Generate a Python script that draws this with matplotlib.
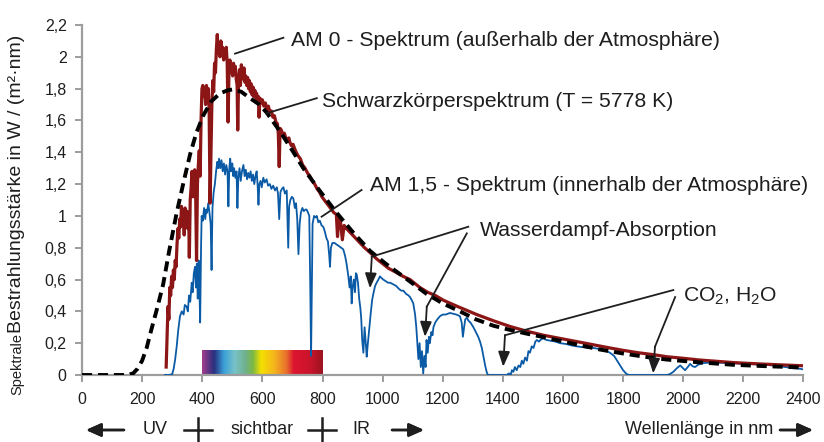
"""
Sonnenspektrum: AM0, AM1.5 und Schwarzkoerperspektrum (T = 5778 K)
"""
import matplotlib
matplotlib.use('Agg')
import matplotlib.pyplot as plt
import numpy as np
from matplotlib.colors import LinearSegmentedColormap

plt.rcParams['font.family'] = ['Liberation Sans', 'DejaVu Sans']
plt.rcParams['mathtext.fontset'] = 'custom'
plt.rcParams['mathtext.rm'] = 'Liberation Sans'
plt.rcParams['mathtext.it'] = 'Liberation Sans'

# AM 0 - Spektrum (ausserhalb der Atmosphaere), W/(m^2 nm)
am0_nm = [280, 283, 286, 289, 292, 295, 298, 301, 304, 307, 310, 313, 316, 319, 322, 325,
          328, 331, 334, 337, 340, 343, 346, 349, 352, 355, 357, 360, 363, 366, 369, 372,
          375, 378, 381, 384, 387, 390, 393, 396, 399, 402, 405, 408, 411, 414, 417, 420,
          423, 426, 429, 432, 435, 438, 441, 444, 447, 450, 453, 456, 459, 462, 465, 468,
          471, 474, 477, 480, 483, 486, 489, 492, 495, 498, 501, 504, 507, 510, 513, 516,
          518, 521, 524, 527, 530, 533, 536, 539, 542, 545, 548, 551, 554, 557, 560, 563,
          566, 569, 572, 575, 578, 581, 584, 587, 589, 592, 596, 600, 605, 610, 615, 620,
          625, 630, 635, 640, 645, 650, 653, 656, 659, 663, 668, 673, 678, 683, 688, 692,
          697, 702, 710, 718, 726, 734, 742, 750, 758, 766, 774, 782, 790, 798, 806, 814,
          822, 830, 838, 846, 850, 854, 860, 866, 872, 880, 900, 920, 940, 958, 980, 1000,
          1020, 1040, 1068, 1091, 1124, 1150, 1175, 1202, 1250, 1313, 1370, 1424, 1480, 1535, 1590, 1646,
          1700, 1756, 1800, 1850, 1900, 1945, 2000, 2050, 2100, 2167, 2250, 2320, 2400]
am0_val = [0.05, 0.25, 0.43, 0.35, 0.55, 0.50, 0.62, 0.55, 0.66, 0.60, 0.72, 0.68, 0.82, 0.92, 0.86, 0.98,
           0.93, 1.06, 0.96, 1.02, 0.88, 1.05, 0.98, 1.03, 0.92, 1.00, 0.74, 1.10, 1.18, 1.28, 1.12, 1.25,
           1.29, 1.15, 0.72, 1.20, 1.32, 1.41, 1.25, 1.60, 1.80, 1.82, 1.75, 1.80, 1.70, 1.82, 1.76, 1.80,
           1.65, 1.08, 1.40, 1.70, 1.85, 1.78, 1.96, 1.90, 2.05, 2.14, 2.02, 2.08, 2.00, 2.10, 2.02, 2.06,
           1.98, 2.04, 2.00, 2.06, 1.96, 1.59, 1.92, 1.98, 1.90, 1.95, 1.88, 1.96, 1.90, 1.94, 1.86, 1.82,
           1.54, 1.86, 1.92, 1.82, 1.95, 1.90, 1.86, 1.93, 1.84, 1.88, 1.82, 1.87, 1.80, 1.85, 1.78, 1.83,
           1.76, 1.81, 1.75, 1.79, 1.74, 1.77, 1.72, 1.75, 1.62, 1.74, 1.71, 1.73, 1.69, 1.71, 1.67, 1.69,
           1.65, 1.66, 1.62, 1.63, 1.59, 1.58, 1.52, 1.31, 1.55, 1.54, 1.51, 1.52, 1.49, 1.47, 1.49, 1.46,
           1.44, 1.45, 1.41, 1.38, 1.36, 1.32, 1.30, 1.27, 1.25, 1.22, 1.20, 1.17, 1.15, 1.12, 1.10, 1.08,
           1.06, 1.04, 1.02, 1.01, 0.87, 0.99, 0.96, 0.85, 0.94, 0.92, 0.88, 0.84, 0.80, 0.77, 0.73, 0.70,
           0.67, 0.65, 0.62, 0.60, 0.55, 0.52, 0.50, 0.47, 0.43, 0.38, 0.34, 0.305, 0.275, 0.25, 0.23, 0.21,
           0.19, 0.17, 0.155, 0.14, 0.128, 0.115, 0.105, 0.095, 0.088, 0.078, 0.07, 0.064, 0.058]

# Schwarzkoerperspektrum T = 5778 K (skaliert)
bb_nm = [0, 100, 150, 170, 185, 200, 215, 230, 250, 270, 290, 315, 340, 360, 380, 403,
         430, 459, 485, 503, 530, 559, 590, 614, 659, 700, 736, 790, 847, 900, 958, 1010,
         1068, 1146, 1200, 1257, 1310, 1368, 1420, 1479, 1530, 1590, 1650, 1723, 1800, 1870, 1945, 2050,
         2167, 2280, 2400]
bb_val = [0.0, 0.0, 0.0, 0.01, 0.04, 0.09, 0.17, 0.28, 0.42, 0.57, 0.78, 1.02, 1.23, 1.39, 1.52, 1.63,
          1.72, 1.77, 1.79, 1.795, 1.78, 1.74, 1.70, 1.65, 1.53, 1.41, 1.30, 1.16, 1.02, 0.90, 0.78, 0.70,
          0.62, 0.51, 0.45, 0.40, 0.35, 0.31, 0.285, 0.26, 0.24, 0.215, 0.19, 0.16, 0.135, 0.115, 0.097, 0.08,
          0.064, 0.055, 0.047]

# AM 1,5 - Spektrum (innerhalb der Atmosphaere)
am15_nm = [276, 290, 300, 305, 310, 315, 320, 326, 332, 338, 342, 348, 352, 356, 360, 365,
           368, 372, 376, 379, 382, 385, 388, 390, 393, 396, 398, 402, 406, 410, 413, 416,
           420, 424, 428, 431, 434, 438, 442, 446, 450, 453, 456, 460, 464, 468, 472, 476,
           480, 484, 487, 490, 493, 496, 500, 503, 506, 510, 514, 517, 520, 524, 528, 532,
           537, 541, 545, 549, 553, 557, 561, 565, 569, 573, 577, 581, 584, 587, 590, 594,
           598, 603, 608, 614, 619, 625, 630, 636, 642, 648, 652, 656, 660, 665, 670, 675,
           681, 686, 689, 693, 698, 703, 708, 712, 716, 720, 724, 728, 733, 738, 743, 747,
           752, 756, 759, 762, 764, 767, 772, 777, 781, 786, 791, 797, 803, 808, 813, 818,
           822, 825, 828, 833, 840, 847, 855, 862, 869, 875, 880, 886, 890, 894, 897, 900,
           904, 908, 911, 914, 918, 922, 926, 929, 932, 936, 940, 944, 947, 950, 955, 960,
           965, 969, 975, 980, 986, 991, 996, 1002, 1010, 1018, 1025, 1035, 1045, 1055, 1062, 1069,
           1078, 1086, 1091, 1097, 1102, 1108, 1112, 1116, 1119, 1123, 1127, 1131, 1135, 1139, 1143, 1146,
           1150, 1154, 1157, 1162, 1166, 1169, 1175, 1182, 1191, 1200, 1210, 1224, 1235, 1245, 1257, 1263,
           1267, 1271, 1275, 1280, 1286, 1292, 1302, 1310, 1318, 1324, 1330, 1336, 1341, 1346, 1350, 1413,
           1420, 1426, 1430, 1435, 1440, 1446, 1452, 1458, 1463, 1468, 1474, 1480, 1485, 1490, 1496, 1502,
           1508, 1513, 1520, 1528, 1535, 1545, 1560, 1575, 1590, 1610, 1630, 1646, 1665, 1685, 1701, 1715,
           1730, 1745, 1756, 1770, 1780, 1790, 1800, 1812, 1820, 1945, 1955, 1967, 1980, 1990, 1998, 2006,
           2015, 2023, 2031, 2039, 2050, 2067, 2090, 2120, 2150, 2167, 2200, 2230, 2278, 2310, 2340, 2367,
           2385, 2400]
am15_val = [0.0, 0.0, 0.005, 0.04, 0.10, 0.18, 0.28, 0.37, 0.40, 0.38, 0.44, 0.43, 0.40, 0.50, 0.46, 0.58,
            0.52, 0.64, 0.68, 0.55, 0.70, 0.48, 0.72, 0.60, 0.33, 0.80, 1.00, 0.97, 1.05, 0.98, 1.04, 1.02,
            1.08, 1.02, 0.95, 0.66, 1.05, 1.15, 1.20, 1.28, 1.34, 1.30, 1.36, 1.30, 1.35, 1.28, 1.33, 1.26,
            1.32, 1.28, 1.06, 1.30, 1.36, 1.28, 1.33, 1.25, 1.30, 1.24, 1.28, 1.05, 1.24, 1.30, 1.22, 1.28,
            1.32, 1.25, 1.29, 1.23, 1.27, 1.24, 1.28, 1.22, 1.26, 1.20, 1.25, 1.28, 1.20, 1.07, 1.20, 1.22,
            1.18, 1.24, 1.21, 1.23, 1.19, 1.20, 1.17, 1.19, 1.16, 1.18, 1.14, 0.98, 1.15, 1.17, 1.18, 1.14,
            1.16, 0.80, 1.06, 1.10, 1.12, 1.11, 1.05, 1.08, 0.98, 0.76, 0.95, 1.02, 1.05, 1.03, 1.04, 1.04,
            1.02, 1.00, 0.60, 0.12, 0.45, 0.95, 1.00, 0.99, 1.00, 0.96, 0.97, 0.94, 0.93, 0.90, 0.86, 0.84,
            0.76, 0.68, 0.80, 0.83, 0.83, 0.82, 0.81, 0.80, 0.79, 0.75, 0.70, 0.62, 0.55, 0.62, 0.45, 0.55,
            0.60, 0.52, 0.64, 0.63, 0.58, 0.48, 0.42, 0.35, 0.22, 0.14, 0.30, 0.20, 0.115, 0.18, 0.28, 0.38,
            0.47, 0.51, 0.56, 0.58, 0.60, 0.62, 0.61, 0.60, 0.59, 0.58, 0.58, 0.57, 0.56, 0.54, 0.53, 0.53,
            0.51, 0.50, 0.49, 0.47, 0.45, 0.38, 0.30, 0.18, 0.10, 0.20, 0.05, 0.15, 0.01, 0.12, 0.05, 0.22,
            0.14, 0.24, 0.20, 0.27, 0.25, 0.30, 0.33, 0.35, 0.37, 0.38, 0.38, 0.39, 0.385, 0.38, 0.37, 0.33,
            0.24, 0.30, 0.35, 0.36, 0.34, 0.33, 0.30, 0.27, 0.24, 0.21, 0.17, 0.11, 0.06, 0.02, 0.0, 0.0,
            0.01, 0.0, 0.03, 0.02, 0.05, 0.03, 0.06, 0.05, 0.09, 0.07, 0.11, 0.09, 0.15, 0.14, 0.18, 0.17,
            0.21, 0.22, 0.21, 0.225, 0.23, 0.22, 0.215, 0.21, 0.20, 0.195, 0.185, 0.18, 0.175, 0.17, 0.17, 0.165,
            0.16, 0.15, 0.14, 0.12, 0.09, 0.06, 0.03, 0.005, 0.0, 0.0, 0.005, 0.02, 0.045, 0.06, 0.045, 0.03,
            0.05, 0.07, 0.055, 0.05, 0.065, 0.075, 0.078, 0.077, 0.075, 0.074, 0.07, 0.068, 0.063, 0.058, 0.05, 0.042,
            0.04, 0.035]

x_ticks = [0, 200, 400, 600, 800, 1000, 1200, 1400, 1600, 1800, 2000, 2200, 2400]
y_ticks = [0, 0.2, 0.4, 0.6, 0.8, 1.0, 1.2, 1.4, 1.6, 1.8, 2.0, 2.2]
y_ticklabels = ['0', '0,2', '0,4', '0,6', '0,8', '1', '1,2', '1,4', '1,6', '1,8', '2', '2,2']

# sichtbarer Bereich
vis_range = (400, 800)
vis_colors = [(0.00, '#a23c8c'), (0.10, '#28307f'), (0.18, '#3aa0d8'), (0.27, '#78c3c8'),
              (0.36, '#6fb08c'), (0.42, '#7ab844'), (0.49, '#f5e000'), (0.60, '#f4b41e'),
              (0.70, '#e8702c'), (0.76, '#dd1430'), (0.90, '#c8142a'), (1.00, '#9a1420')]

RED = '#8c1515'
BLUE = '#0a5aa6'
GREY = '#9d9d9d'
TXT = '#1e1e1e'

W, H = 824, 442
fig = plt.figure(figsize=(W / 100, H / 100), dpi=100)
ax = fig.add_axes([82 / W, 1 - 375 / H, (803.5 - 82) / W, (375 - 25) / H])


def fp(px, py):
    """top-left pixel -> figure fraction"""
    return px / W, 1 - py / H


# Farbbalken sichtbar
cmap = LinearSegmentedColormap.from_list('vis', vis_colors)
grad = np.linspace(0, 1, 256).reshape(1, -1)
ax.imshow(grad, extent=[vis_range[0], vis_range[1], 0, 0.157], aspect='auto', cmap=cmap, zorder=1)

ax.plot(am15_nm, am15_val, color=BLUE, lw=1.3, zorder=2.7)
ax.plot(am0_nm, am0_val, color=RED, lw=2.3, zorder=3)
ax.plot(bb_nm, bb_val, color='black', lw=2.8, ls=(0, (2.6, 1.5)), dash_capstyle='butt', zorder=4)

ax.set_xlim(0, 2400)
ax.set_ylim(0, 2.2)
ax.set_xticks(x_ticks)
ax.set_yticks(y_ticks)
ax.set_yticklabels(y_ticklabels)
for s in ['top', 'right']:
    ax.spines[s].set_visible(False)
for s in ['left', 'bottom']:
    ax.spines[s].set_color(GREY)
    ax.spines[s].set_linewidth(1.6)
ax.tick_params(colors=GREY, width=1.4, length=5, labelcolor=TXT, labelsize=11.5)
ax.tick_params(axis='x', pad=7)
ax.tick_params(axis='y', pad=6)

# Beschriftungen mit Linien
fs = 15.2
ax.plot([509, 670], [2.02, 2.12], color=TXT, lw=1.3, clip_on=False, zorder=5)
ax.text(695, 2.105, 'AM 0 - Spektrum (außerhalb der Atmosphäre)', fontsize=fs, color=TXT, va='center')

ax.plot([614, 781], [1.645, 1.74], color=TXT, lw=1.3, zorder=5)
ax.text(798, 1.72, 'Schwarzkörperspektrum (T = 5778 K)', fontsize=fs, color=TXT, va='center')

ax.plot([797, 930], [0.995, 1.163], color=TXT, lw=1.3, zorder=5)
ax.text(958, 1.19, 'AM 1,5 - Spektrum (innerhalb der Atmosphäre)', fontsize=fs, color=TXT, va='center')

ax.text(1324, 0.91, 'Wasserdampf-Absorption', fontsize=fs, color=TXT, va='center')
ax.text(2000, 0.497, 'CO$_2$, H$_2$O', fontsize=fs, color=TXT, va='center')

arrows = [
    [(1285, 0.932), (964, 0.744), (958, 0.545)],
    [(1280, 0.89), (1147, 0.43), (1141, 0.24)],
    [(1967, 0.534), (1407, 0.25), (1401, 0.052)],
    [(1973, 0.49), (1906, 0.178), (1900, 0.01)],
]
for (p0, p1, p2) in arrows:
    ax.plot([p0[0], p1[0]], [p0[1], p1[1]], color=TXT, lw=1.3, zorder=5)
    ax.annotate('', xy=p2, xytext=p1,
                arrowprops=dict(arrowstyle='-|>,head_length=0.9,head_width=0.35', color=TXT, lw=1.3,
                                shrinkA=0, shrinkB=0), zorder=6)

# y-Achsentitel
fig.text(*fp(17, 395), 'Spektrale', rotation=90, fontsize=10.5, color=TXT, ha='center', va='bottom')
fig.text(*fp(17, 333), 'Bestrahlungsstärke in W / (m²·nm)', rotation=90, fontsize=14,
         color=TXT, ha='center', va='bottom')

# untere Zeile: UV / sichtbar / IR
row_y = 430
fs_row = 13
arr = dict(arrowstyle='-|>,head_length=0.9,head_width=0.4', color=TXT, lw=1.8, shrinkA=0, shrinkB=0)
fig.add_artist(plt.annotate('', xy=fp(86, row_y), xytext=fp(124, row_y), xycoords='figure fraction',
                            textcoords='figure fraction', arrowprops=arr))
fig.text(*fp(155, row_y), 'UV', fontsize=fs_row, color=TXT, ha='center', va='center')
fig.text(*fp(262, row_y), 'sichtbar', fontsize=fs_row, color=TXT, ha='center', va='center')
fig.text(*fp(361, row_y), 'IR', fontsize=fs_row, color=TXT, ha='center', va='center')
for cx in [197.5, 322]:
    fig.add_artist(plt.Line2D([(cx - 14) / W, (cx + 14) / W], [1 - row_y / H] * 2, color=TXT, lw=1.8))
    fig.add_artist(plt.Line2D([cx / W] * 2, [1 - 418 / H, 0], color=TXT, lw=1.8))
fig.add_artist(plt.annotate('', xy=fp(424, row_y), xytext=fp(392, row_y), xycoords='figure fraction',
                            textcoords='figure fraction', arrowprops=arr))
fig.text(*fp(773, row_y), 'Wellenlänge in nm', fontsize=fs_row, color=TXT, ha='right', va='center')
fig.add_artist(plt.annotate('', xy=fp(813, row_y), xytext=fp(780, row_y), xycoords='figure fraction',
                            textcoords='figure fraction', arrowprops=arr))

fig.savefig('out.png', dpi=100)
